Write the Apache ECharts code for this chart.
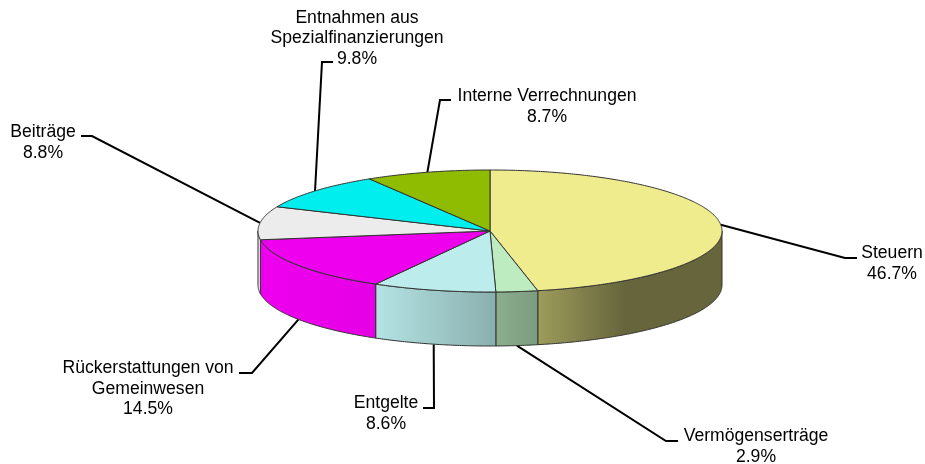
<!DOCTYPE html>
<html><head><meta charset="utf-8">
<style>html,body{margin:0;padding:0;background:#fff}#c{width:925px;height:464px}</style>
<script src="https://cdn.jsdelivr.net/npm/echarts@6/dist/echarts.min.js"></script>
</head><body><div id="c"></div>
<script>
const categories = ['Steuern','Vermögenserträge','Entgelte','Rückerstattungen von\nGemeinwesen','Beiträge','Entnahmen aus\nSpezialfinanzierungen','Interne Verrechnungen'];
const shares = [46.7,2.9,8.6,14.5,8.8,9.8,8.7];
const colors = ['#eeec8c','#bcecc0','#bcecec','#ee00ee','#ececec','#00eeee','#8fbb00'];

// Layout of the flattened disc and the callouts (pixels)
const disc = {cx:490, cy:231, rx:232, ry:61, depth:54};
const labelCentre = [[892,263.5],[756,446.5],[386,413.5],[148,389],[43,142.5],[357,38.5],[547,106.5]];
const leaderElbow = [[[845,258],[857,258]],[[666,441],[678,441]],[[434,408],[423,408]],[[252,373],[239,373]],[[92,136],[81,136]],[[322,62],[333,62]],[[440,100],[451,100]]];
// side-wall shading: [x, brightness]
const sideShade = [[258,1],[376,0.96],[496,0.74],[538,0.66],[625,0.43],[722,0.43]];

const total = shares.reduce((a,b)=>a+b,0);
const startOf = i => shares.slice(0,i).reduce((a,b)=>a+b,0)/total*Math.PI*2;
const pt = (t,dy=0) => [disc.cx+disc.rx*Math.sin(t), disc.cy-disc.ry*Math.cos(t)+dy];
const arc = (a,b,dy=0) => { const n=Math.max(2,Math.ceil(Math.abs(b-a)/0.01)), r=[]; for(let k=0;k<=n;k++) r.push(pt(a+(b-a)*k/n,dy)); return r; };
const brightness = x => { for(let k=1;k<sideShade.length;k++){ if(x<=sideShade[k][0]){const [x0,v0]=sideShade[k-1],[x1,v1]=sideShade[k]; return v0+(v1-v0)*(x-x0)/(x1-x0);} } return sideShade[sideShade.length-1][1]; };
const scaled = (hex,f) => { const n=parseInt(hex.slice(1),16); return 'rgb('+[n>>16,(n>>8)&255,n&255].map(c=>Math.round(c*f)).join(',')+')'; };
const edge = '#333333';

function renderSlice(params, api){
  const i = params.dataIndex, a = startOf(i), b = a + api.value(0)/total*Math.PI*2, children = [];
  const fa = Math.max(a,Math.PI/2), fb = Math.min(b,Math.PI*1.5);
  if (fb > fa) {
    const top = arc(fa,fb), bottom = arc(fa,fb,disc.depth).reverse();
    const xs = top.map(p=>p[0]), x0 = Math.min(...xs), x1 = Math.max(...xs);
    const xsStops = [x0, ...sideShade.map(s=>s[0]).filter(x=>x>x0&&x<x1), x1];
    const stops = xsStops.map(x=>({offset:(x-x0)/(x1-x0), color:scaled(colors[i],brightness(x))}));
    children.push({type:'polygon', shape:{points:top.concat(bottom)},
      style:{fill:new echarts.graphic.LinearGradient(x0,0,x1,0,stops,true), stroke:edge, lineWidth:1}});
  }
  children.push({type:'polygon', shape:{points:[[disc.cx,disc.cy]].concat(arc(a,b))},
    style:{fill:colors[i], stroke:edge, lineWidth:1}});
  return {type:'group', children};
}

function renderCallout(params, api){
  const i = params.dataIndex;
  const mid = startOf(i) + api.value(0)/total*Math.PI;
  const front = Math.cos(mid) < 0 && Math.sin(mid) > -0.95;
  const anchor = pt(mid, front ? disc.depth : 0);
  return {type:'group', children:[
    {type:'polyline', shape:{points:[anchor].concat(leaderElbow[i])}, style:{fill:'none', stroke:'#000', lineWidth:2}},
    {type:'text', x:labelCentre[i][0], y:labelCentre[i][1],
      style:{text:categories[i]+'\n'+api.value(0).toFixed(1)+'%', align:'center', verticalAlign:'middle',
        font:'17.6px "Liberation Sans", Arial, sans-serif', lineHeight:20.5, fill:'#000'}}
  ]};
}

const chart = echarts.init(document.getElementById('c'), null, {renderer:'canvas'});
chart.setOption({
  animation:false, backgroundColor:'#fff',
  series:[
    {type:'custom', coordinateSystem:'none', z:1, silent:true, data:shares.map(v=>[v]), renderItem:renderCallout},
    {type:'custom', coordinateSystem:'none', z:2, silent:true, data:shares.map(v=>[v]), renderItem:renderSlice}
  ]
});
</script></body></html>
